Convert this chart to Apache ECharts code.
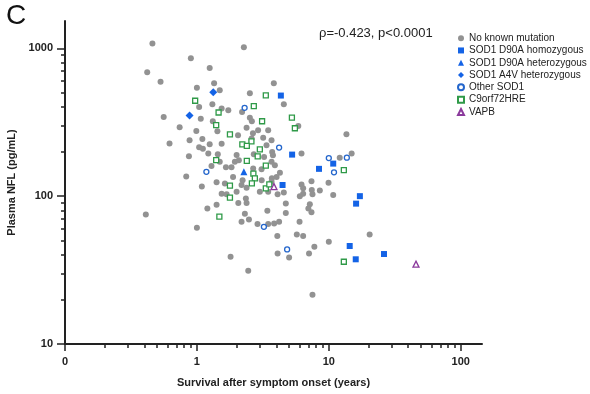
<!DOCTYPE html>
<html>
<head>
<meta charset="utf-8">
<script src="https://cdn.jsdelivr.net/npm/echarts@6/dist/echarts.min.js"></script>
<style>
  html, body { margin: 0; padding: 0; background: #fff; }
  #main { width: 590px; height: 394px; }
</style>
</head>
<body>
<div id="main"></div>
<script>
// survival (years), plasma NFL (pg/mL)
var noMutation = [
  [0.46, 1076], [2.27, 1016], [0.90, 856], [1.25, 736], [0.42, 688], [0.53, 594],
  [3.83, 580], [1.35, 580], [1.0, 541], [1.49, 520], [2.52, 497], [4.56, 418],
  [1.31, 418], [1.04, 401], [1.54, 391], [1.73, 381], [2.20, 371], [0.56, 343],
  [1.07, 334], [2.52, 339], [2.61, 321], [1.32, 321], [0.74, 293], [2.38, 290],
  [5.87, 298], [2.91, 279], [3.47, 279], [1.43, 275], [0.99, 276], [13.6, 262],
  [2.05, 258], [2.66, 266], [2.60, 245], [3.18, 248], [3.68, 239], [1.10, 244],
  [0.88, 239], [0.62, 227], [1.25, 224], [1.54, 226], [3.37, 221], [1.04, 214],
  [1.11, 209], [1.22, 194], [0.87, 186], [1.44, 192], [2.0, 190], [2.70, 192],
  [3.72, 199], [3.77, 189], [3.23, 184], [6.21, 194], [14.9, 194], [12.1, 182],
  [1.29, 160], [1.49, 171], [1.66, 157], [1.83, 157], [2.08, 175], [1.94, 171],
  [2.67, 154], [3.09, 152], [3.68, 171], [3.90, 162], [4.26, 144], [0.83, 136],
  [1.88, 135], [2.22, 128], [3.70, 132], [4.02, 135], [3.68, 125], [1.63, 122],
  [1.09, 116], [2.18, 119], [1.41, 124], [2.38, 114], [3.0, 107], [3.47, 107],
  [4.56, 106], [4.09, 103], [6.21, 120], [7.39, 126], [6.39, 113], [7.43, 110],
  [8.55, 109], [9.95, 123], [10.8, 102], [6.03, 100], [6.39, 104], [7.52, 103],
  [1.54, 104], [1.68, 103], [2.0, 107], [2.35, 96.5], [2.06, 90], [2.38, 90],
  [1.41, 87.6], [1.20, 82.4], [3.42, 79.6], [4.72, 89.3], [4.72, 77], [7.18, 88.3],
  [7.0, 82.6], [7.39, 77.9], [2.31, 76], [2.48, 69.6], [2.18, 67], [2.88, 64.7],
  [3.47, 64.7], [3.85, 65.4], [4.20, 67], [6.0, 67], [0.41, 75.2], [1.0, 61.2],
  [4.07, 53.7], [5.72, 55], [6.39, 53.7], [10.0, 49.1], [7.77, 45.4], [20.4, 55.1],
  [4.09, 41], [5.0, 38.5], [7.08, 41], [1.80, 38.9], [2.45, 31.3], [7.52, 21.5],
  [3.10, 128]
];
var d90aHomo = [
  [4.33, 479], [5.27, 191], [4.46, 119], [10.8, 166], [8.43, 153],
  [17.2, 100], [16.1, 89], [14.4, 46], [26.2, 40.6], [16.0, 37.4]
];
var d90aHetero = [[2.27, 146]];
var a4vHetero = [[1.33, 504], [0.88, 351]];
var otherSod1 = [
  [2.30, 396], [4.20, 213], [1.18, 146], [3.22, 62], [4.83, 43.6],
  [10.0, 181], [13.7, 182], [10.95, 145]
];
var c9orf72 = [
  [3.33, 481], [0.97, 442], [2.70, 406], [1.46, 368], [3.12, 321], [5.25, 340],
  [5.53, 288], [1.40, 302], [1.78, 262], [2.59, 235], [2.21, 224], [2.39, 219],
  [3.0, 207], [2.89, 186], [2.39, 173], [1.40, 175], [3.33, 161], [2.68, 142],
  [2.75, 132], [2.61, 122], [1.78, 118], [3.33, 113], [3.54, 120], [1.78, 97.7],
  [1.48, 72.7], [13.0, 150], [13.0, 36]
];
var vapb = [[3.84, 116], [45.8, 34.7]];

var xMajor = [0.1, 1, 10, 100];
var xMinor = [0.2, 0.3, 0.4, 0.5, 0.6, 0.7, 0.8, 0.9, 2, 3, 4, 5, 6, 7, 8, 9,
  20, 30, 40, 50, 60, 70, 80, 90];
var yMajor = [10, 100, 1000];
var yMinor = [20, 30, 40, 50, 60, 70, 80, 90, 200, 300, 400, 500, 600, 700, 800, 900];

var font = "'Liberation Sans', Arial, sans-serif";
var axisColor = "#222";

var myChart = echarts.init(document.getElementById("main"));

function pt(name, data, symbol, size, fill, border) {
  return {
    name: name,
    type: "scatter",
    data: data,
    symbol: symbol,
    symbolSize: size,
    itemStyle: {
      color: fill,
      borderColor: border || fill,
      borderWidth: border ? 1.3 : 0,
      opacity: 1
    },
    emphasis: { disabled: true }
  };
}

myChart.setOption({
  animation: false,
  textStyle: { fontFamily: font },
  grid: { left: 65, right: 108, top: 21, bottom: 50, outerBoundsMode: "none" },
  graphic: [
    {
      type: "text", left: 6, top: 2,
      style: { text: "C", fontSize: 28, fontFamily: font, fill: "#111" }
    },
    {
      type: "text", left: 319, top: 27,
      style: { text: "ρ=-0.423, p<0.0001", fontSize: 13, fontFamily: font, fill: "#222" }
    }
  ],
  legend: {
    orient: "vertical",
    left: 452,
    top: 27,
    itemWidth: 6,
    itemHeight: 6,
    itemGap: 0,
    padding: 5,
    selectedMode: false,
    textStyle: { fontSize: 10, lineHeight: 12.3, color: "#222", fontFamily: font },
    data: [
      "No known mutation", "SOD1 D90A homozygous", "SOD1 D90A heterozygous",
      "SOD1 A4V heterozygous", "Other SOD1", "C9orf72HRE", "VAPB"
    ]
  },
  xAxis: [
    {
      type: "log",
      logBase: 10,
      min: 0.1,
      max: 145,
      position: "bottom",
      name: "Survival after symptom onset (years)",
      nameLocation: "middle",
      nameGap: 33,
      nameTextStyle: { fontWeight: "bold", fontSize: 11, color: axisColor },
      axisLine: { lineStyle: { color: axisColor, width: 2 } },
      axisTick: { length: 7, customValues: xMajor, lineStyle: { color: axisColor, width: 1.5 } },
      axisLabel: {
        customValues: xMajor,
        margin: 12,
        fontWeight: "bold",
        fontSize: 11,
        color: axisColor,
        formatter: function (v) { return v < 1 ? "0" : String(Math.round(v)); }
      },
      splitLine: { show: false }
    },
    {
      // minor ticks only
      type: "log",
      logBase: 10,
      min: 0.1,
      max: 145,
      position: "bottom",
      axisLine: { show: false },
      axisTick: { length: 4, customValues: xMinor, lineStyle: { color: axisColor, width: 1.5 } },
      axisLabel: { show: false },
      splitLine: { show: false }
    }
  ],
  yAxis: [
    {
      type: "log",
      logBase: 10,
      min: 10,
      max: 1530,
      position: "left",
      name: "Plasma NFL (pg/mL)",
      nameLocation: "middle",
      nameGap: 47,
      nameTextStyle: { fontWeight: "bold", fontSize: 11, color: axisColor },
      axisLine: { lineStyle: { color: axisColor, width: 2 } },
      axisTick: { length: 8, customValues: yMajor, lineStyle: { color: axisColor, width: 1.5 } },
      axisLabel: {
        customValues: yMajor,
        margin: 12,
        fontWeight: "bold",
        fontSize: 11,
        color: axisColor,
        formatter: function (v) { return String(Math.round(v)); }
      },
      splitLine: { show: false }
    },
    {
      type: "log",
      logBase: 10,
      min: 10,
      max: 1530,
      position: "left",
      axisLine: { show: false },
      axisTick: { length: 4, customValues: yMinor, lineStyle: { color: axisColor, width: 1.5 } },
      axisLabel: { show: false },
      splitLine: { show: false }
    }
  ],
  series: [
    pt("No known mutation", noMutation, "circle", 6, "#929292"),
    pt("SOD1 D90A homozygous", d90aHomo, "rect", 6, "#1463e6"),
    pt("SOD1 D90A heterozygous", d90aHetero, "triangle", 7, "#1463e6"),
    pt("SOD1 A4V heterozygous", a4vHetero, "diamond", 8, "#1463e6"),
    pt("Other SOD1", otherSod1, "circle", 5, "#fff", "#2466cc"),
    pt("C9orf72HRE", c9orf72, "rect", 5, "#fff", "#2f9a48"),
    pt("VAPB", vapb, "triangle", 6, "#fff", "#8b3a9c")
  ]
});
</script>
</body>
</html>
